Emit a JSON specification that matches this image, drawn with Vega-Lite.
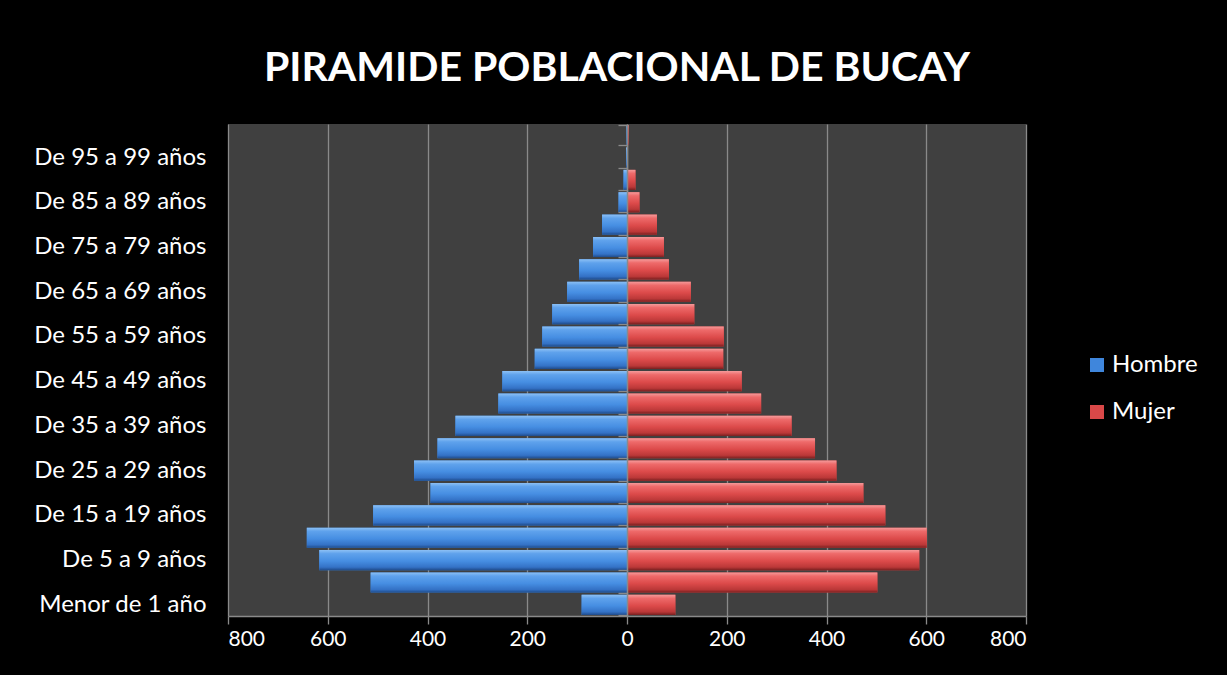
{
  "$schema": "https://vega.github.io/schema/vega-lite/v6.json",
  "width": 798,
  "height": 492,
  "autosize": "none",
  "padding": {"left": 228, "top": 124, "right": 201, "bottom": 59},
  "background": "#000000",
  "config": {"view": {"fill": "#404040", "stroke": null}, "font": "Lato"},
  "title": {
    "text": "PIRAMIDE POBLACIONAL DE BUCAY",
    "color": "#ffffff",
    "font": "Lato",
    "fontSize": 41,
    "fontWeight": "bold",
    "anchor": "middle",
    "dx": -10,
    "offset": 2,
    "baseline": "alphabetic"
  },
  "data": {
    "values": [
      {"edad": "De 100 años y más", "sexo": "Hombre", "valor": -1},
      {"edad": "De 100 años y más", "sexo": "Mujer", "valor": 3},
      {"edad": "De 95 a 99 años", "sexo": "Hombre", "valor": -2},
      {"edad": "De 95 a 99 años", "sexo": "Mujer", "valor": 1},
      {"edad": "De 90 a 94 años", "sexo": "Hombre", "valor": -7},
      {"edad": "De 90 a 94 años", "sexo": "Mujer", "valor": 17},
      {"edad": "De 85 a 89 años", "sexo": "Hombre", "valor": -17},
      {"edad": "De 85 a 89 años", "sexo": "Mujer", "valor": 25},
      {"edad": "De 80 a 84 años", "sexo": "Hombre", "valor": -50},
      {"edad": "De 80 a 84 años", "sexo": "Mujer", "valor": 60},
      {"edad": "De 75 a 79 años", "sexo": "Hombre", "valor": -68},
      {"edad": "De 75 a 79 años", "sexo": "Mujer", "valor": 74},
      {"edad": "De 70 a 74 años", "sexo": "Hombre", "valor": -96},
      {"edad": "De 70 a 74 años", "sexo": "Mujer", "valor": 84},
      {"edad": "De 65 a 69 años", "sexo": "Hombre", "valor": -120},
      {"edad": "De 65 a 69 años", "sexo": "Mujer", "valor": 128},
      {"edad": "De 60 a 64 años", "sexo": "Hombre", "valor": -150},
      {"edad": "De 60 a 64 años", "sexo": "Mujer", "valor": 135},
      {"edad": "De 55 a 59 años", "sexo": "Hombre", "valor": -170},
      {"edad": "De 55 a 59 años", "sexo": "Mujer", "valor": 194},
      {"edad": "De 50 a 54 años", "sexo": "Hombre", "valor": -185},
      {"edad": "De 50 a 54 años", "sexo": "Mujer", "valor": 193},
      {"edad": "De 45 a 49 años", "sexo": "Hombre", "valor": -250},
      {"edad": "De 45 a 49 años", "sexo": "Mujer", "valor": 230},
      {"edad": "De 40 a 44 años", "sexo": "Hombre", "valor": -258},
      {"edad": "De 40 a 44 años", "sexo": "Mujer", "valor": 269},
      {"edad": "De 35 a 39 años", "sexo": "Hombre", "valor": -344},
      {"edad": "De 35 a 39 años", "sexo": "Mujer", "valor": 330},
      {"edad": "De 30 a 34 años", "sexo": "Hombre", "valor": -380},
      {"edad": "De 30 a 34 años", "sexo": "Mujer", "valor": 377},
      {"edad": "De 25 a 29 años", "sexo": "Hombre", "valor": -427},
      {"edad": "De 25 a 29 años", "sexo": "Mujer", "valor": 420},
      {"edad": "De 20 a 24 años", "sexo": "Hombre", "valor": -394},
      {"edad": "De 20 a 24 años", "sexo": "Mujer", "valor": 474},
      {"edad": "De 15 a 19 años", "sexo": "Hombre", "valor": -509},
      {"edad": "De 15 a 19 años", "sexo": "Mujer", "valor": 518},
      {"edad": "De 10 a 14 años", "sexo": "Hombre", "valor": -642},
      {"edad": "De 10 a 14 años", "sexo": "Mujer", "valor": 601},
      {"edad": "De 5 a 9 años", "sexo": "Hombre", "valor": -617},
      {"edad": "De 5 a 9 años", "sexo": "Mujer", "valor": 586},
      {"edad": "De 1 a 4 años", "sexo": "Hombre", "valor": -514},
      {"edad": "De 1 a 4 años", "sexo": "Mujer", "valor": 502},
      {"edad": "Menor de 1 año", "sexo": "Hombre", "valor": -91},
      {"edad": "Menor de 1 año", "sexo": "Mujer", "valor": 97}
    ]
  },
  "layer": [
    {
      "mark": {"type": "bar"},
      "encoding": {
        "y": {
          "field": "edad",
          "type": "nominal",
          "sort": null,
          "scale": {"paddingInner": 0.1, "paddingOuter": 0.05},
          "axis": {
            "title": null,
            "values": ["Menor de 1 año", "De 5 a 9 años", "De 15 a 19 años", "De 25 a 29 años", "De 35 a 39 años", "De 45 a 49 años", "De 55 a 59 años", "De 65 a 69 años", "De 75 a 79 años", "De 85 a 89 años", "De 95 a 99 años"],
            "ticks": false,
            "domain": false,
            "labelColor": "#ffffff",
            "labelFont": "Lato",
            "labelFontSize": 24,
            "labelPadding": 22,
            "labelLimit": 300
          }
        },
        "x": {
          "field": "valor",
          "type": "quantitative",
          "stack": null,
          "scale": {"domain": [-800, 800], "nice": false, "zero": false},
          "axis": {
            "title": null,
            "values": [-800, -600, -400, -200, 0, 200, 400, 600, 800],
            "labelExpr": "abs(datum.value)",
            "labelColor": "#ffffff",
            "labelFont": "Lato",
            "labelFontSize": 21,
            "labelPadding": 4,
            "grid": true,
            "gridColor": "#8a8a8a",
            "gridWidth": 1.3,
            "domainColor": "#8a8a8a",
            "domainWidth": 1.3,
            "tickColor": "#8a8a8a",
            "tickWidth": 1.3,
            "tickSize": 8
          }
        },
        "color": {
          "field": "sexo",
          "type": "nominal",
          "scale": {"domain": ["Hombre", "Mujer"], "range": ["#3f86dc", "#d94848"]},
          "legend": {
            "title": null,
            "orient": "none",
            "legendX": 857,
            "legendY": 229,
            "labelColor": "#ffffff",
            "labelFont": "Lato",
            "labelFontSize": 24,
            "symbolType": "square",
            "symbolSize": 196,
            "symbolStrokeWidth": 0,
            "symbolOpacity": 1,
            "rowPadding": 23,
            "labelOffset": 3
          }
        }
      }
    },
    {
      "mark": {"type": "bar"},
      "encoding": {
        "y": {
          "field": "edad",
          "type": "nominal",
          "sort": null,
          "scale": {"paddingInner": 0.1, "paddingOuter": 0.05},
          "axis": {
            "title": null,
            "orient": "left",
            "offset": -399,
            "labels": false,
            "ticks": true,
            "tickBand": "extent",
            "tickSize": 9,
            "tickColor": "#8a8a8a",
            "tickWidth": 1.3,
            "domain": true,
            "domainColor": "#8a8a8a",
            "domainWidth": 1.5,
            "grid": false,
            "zindex": 1
          }
        },
        "x": {
          "field": "valor",
          "type": "quantitative",
          "stack": null,
          "scale": {"domain": [-800, 800], "nice": false, "zero": false}
        },
        "color": {
          "condition": {
            "test": "datum.sexo === 'Hombre'",
            "value": {"gradient": "linear", "x1": 0, "y1": 0, "x2": 0, "y2": 1, "stops": [
              {"offset": 0, "color": "#8cc0f5"},
              {"offset": 0.18, "color": "#5fa2ec"},
              {"offset": 0.55, "color": "#468ee2"},
              {"offset": 0.85, "color": "#3472c6"},
              {"offset": 1, "color": "#1f4c8c"}
            ]}
          },
          "value": {"gradient": "linear", "x1": 0, "y1": 0, "x2": 0, "y2": 1, "stops": [
            {"offset": 0, "color": "#f59a9a"},
            {"offset": 0.18, "color": "#ee6a6a"},
            {"offset": 0.55, "color": "#dc4a4a"},
            {"offset": 0.85, "color": "#bb3838"},
            {"offset": 1, "color": "#7a2020"}
          ]}
        }
      }
    }
  ],
  "resolve": {"axis": {"y": "independent"}}
}
